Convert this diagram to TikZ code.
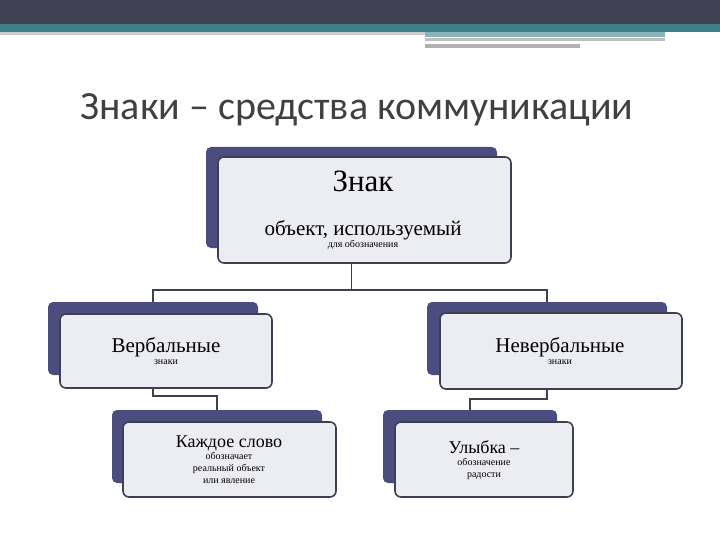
\documentclass[tikz,border=0pt]{standalone}
\usepackage{fontspec}
\setmainfont{Liberation Serif}
\newfontfamily\titlefont{Carlito}
\usetikzlibrary{calc}
\definecolor{barDark}{HTML}{3F4052}
\definecolor{barTeal}{HTML}{3F8088}
\definecolor{boxBack}{HTML}{4B4D7E}
\definecolor{boxFill}{HTML}{ECECF3}
\definecolor{boxLine}{HTML}{3E4050}
\definecolor{titleGray}{HTML}{404040}
\tikzset{
  back/.style={fill=boxBack, rounded corners=5pt, inner sep=0pt},
  front/.style={fill=boxFill, draw=boxLine, line width=1.6pt, rounded corners=6pt, inner sep=0pt},
  link/.style={draw=boxLine, line width=1.5pt},
  boxtext/.style={align=center, text=black, inner sep=0pt}
}
\begin{document}
\begin{tikzpicture}[x=1pt, y=-1pt]
		\useasboundingbox (0,0) rectangle (720,540);

		% Bandeau
		\fill[barDark] (0,0) rectangle (720,24);
		\fill[barTeal] (0,24) rectangle (720,32);
		\fill[gray!40] (0,32) rectangle (425,35);
		\fill[barTeal!60] (425,32) rectangle (665,37);
		\fill[gray!50] (425,38) rectangle (665,41);
		\fill[gray!60] (425,44) rectangle (580,48);

		% Titre
		\node[text=titleGray] (title) at (357,110) {\titlefont\fontsize{40}{44}\selectfont Знаки – средства коммуникации};

		% Blocs
		\node[back, minimum width=291pt, minimum height=101pt] (tback) at (351.5,197.5) {};
		\node[front, minimum width=293pt, minimum height=106pt] (tfront) at (364.5,210) {};
		\node[back, minimum width=210pt, minimum height=73pt] (lback) at (153,338.5) {};
		\node[front, minimum width=212pt, minimum height=74pt] (lfront) at (166,351) {};
		\node[back, minimum width=240pt, minimum height=73pt] (rback) at (547,338.5) {};
		\node[front, minimum width=242pt, minimum height=76pt] (rfront) at (561,351) {};
		\node[back, minimum width=210pt, minimum height=73pt] (blback) at (217,446.5) {};
		\node[front, minimum width=213pt, minimum height=75pt] (blfront) at (229.5,459.5) {};
		\node[back, minimum width=174pt, minimum height=73pt] (brback) at (470,446.5) {};
		\node[front, minimum width=178pt, minimum height=75pt] (brfront) at (484,459.5) {};

		% Textes
		\node[boxtext] (sign) at (363,181) {\fontsize{31}{34}\selectfont Знак};
		\node[boxtext] (def) at (363,235) {\fontsize{21}{25}\selectfont объект, используемый\\для обозначения};
		\node[boxtext] (verbal) at (166,351) {\fontsize{21}{26}\selectfont Вербальные\\знаки};
		\node[boxtext] (nonverbal) at (560,351) {\fontsize{21}{26}\selectfont Невербальные\\знаки};
		\node[boxtext] (word) at (229,460) {\fontsize{18}{21}\selectfont Каждое слово\\обозначает\\реальный объект\\или явление};
		\node[boxtext] (smile) at (484,460) {\fontsize{18}{21.5}\selectfont Улыбка –\\обозначение\\радости};

		% Liens
		\draw[link] (tback.south |- tfront.south) -- ++(0,26) -| (lback.north);
		\draw[link] (tback.south |- tfront.south) -- ++(0,26) -| (rback.north);
		\draw[link] (lback.south |- lfront.south) -- ++(0,7) -| (blback.north);
		\draw[link] (rback.south |- rfront.south) -- ++(0,9) -| (brback.north);

		% Blocs avant (au-dessus des liens)
\end{tikzpicture}
\end{document}
